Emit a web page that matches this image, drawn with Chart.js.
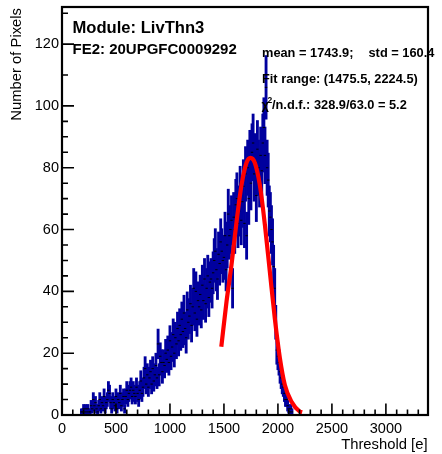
<!DOCTYPE html>
<html><head><meta charset="utf-8">
<script src="https://cdn.jsdelivr.net/npm/chart.js@4"></script>
<style>html,body{margin:0;padding:0;background:#fff;} #wrap{width:442px;height:454px;}</style>
</head><body>
<div id="wrap"><canvas id="c" width="442" height="454"></canvas></div>
<script>
// ---- data ----
const binStart = 180;   // centre of first filled bin [e]
const binWidth = 10;    // bin width [e]
const counts = [
  1,1,2,1,2,1,2,1,1,3,          // 180-270
  2,5,3,4,2,1,3,5,2,4,          // 280-370
  3,6,2,4,5,8,7,4,2,5,          // 380-470
  4,3,6,2,5,4,7,3,5,6,          // 480-570
  2,6,8,5,7,8,9,6,8,7,          // 580-670
  6,9,7,5,8,11,7,9,12,15,       // 680-770
  10,13,9,12,14,10,15,11,13,16, // 780-870
  12,23,13,19,17,14,17,16,20,18,// 880-970
  21,17,24,19,22,26,20,25,23,28,// 980-1070
  24,29,26,31,27,33,28,25,34,30,// 1080-1170
  32,36,29,35,41,33,40,31,37,35,// 1180-1270
  39,34,42,37,44,36,41,45,38,43,// 1280-1370
  44,41,46,50,53,47,44,52,49,56,// 1380-1470
  53,50,51,58,47,55,65,58,60,63,// 1480-1570
  41,64,60,68,70,62,66,72,63,69,// 1580-1670
  74,62,78,58,80,70,83,75,85,88,// 1680-1770
  78,82,71,86,80,76,84,79,88,93,// 1780-1870
  84,106,80,76,66,64,60,56,48,41,// 1880-1970
  30,21,19,17,14,12,10,9,7,5,   // 1980-2070
  5,3,2,1,2,1                   // 2080-2130
];
const fitX = [1475.5,1524,1570,1617,1663,1709,1746,1786,1832,1879,1925,1971,2018,2064,2126,2203,2224.5];
const fitY = [22.1,36.7,48.6,62.6,74.5,81.6,83.2,81.6,74.5,61.6,46.4,31.3,18.4,9.7,4.3,1.1,0.9];
const xTicks = [0,500,1000,1500,2000,2500,3000];
const yTicks = [0,20,40,60,80,100,120];
const xMin = 0, xMax = 3390, yMin = 0, yMax = 132;
const xMinorStep = 100, yMinorStep = 5;
const yMinorHidden = [105,115,125];
const titleModule = 'Module: LivThn3';
const titleFE = 'FE2: 20UPGFC0009292';
const statMean = 'mean = 1743.9;';
const statStd = 'std = 160.4';
const statFit = 'Fit range: (1475.5, 2224.5)';
const statChi = '/n.d.f.: 328.9/63.0 = 5.2';
const xTitle = 'Threshold [e]';
const yTitle = 'Number of Pixels';

// ---- build datasets ----
const errBars = counts.map((n, i) => ({x: binStart + i * binWidth, y: [n - Math.sqrt(n), n + Math.sqrt(n)]}));
const markers = counts.map((n, i) => ({x: binStart + i * binWidth, y: n}));
const fitPts = fitX.map((v, i) => ({x: v, y: fitY[i]}));

const FONT = '"Liberation Sans", Arial, Helvetica, sans-serif';
const BLUE = '#00009e';

const decor = {
  id: 'decor',
  beforeDraw(chart) {
    const ctx = chart.ctx;
    ctx.save(); ctx.fillStyle = '#fff'; ctx.fillRect(0, 0, chart.width, chart.height); ctx.restore();
  },
  afterDraw(chart) {
    const {ctx, chartArea: a, scales: {x, y}} = chart;
    ctx.save();
    // frame
    ctx.strokeStyle = '#000';
    ctx.lineWidth = 2.2;
    ctx.strokeRect(a.left, a.top, a.right - a.left, a.bottom - a.top);
    // ticks (inward, ROOT style)
    ctx.lineWidth = 1.6;
    ctx.beginPath();
    for (let v = xMin; v <= xMax; v += xMinorStep) {
      const px = x.getPixelForValue(v);
      const len = xTicks.includes(v) ? 11.5 : 5.5;
      ctx.moveTo(px, a.bottom); ctx.lineTo(px, a.bottom - len);
    }
    for (let v = yMin; v <= yMax; v += yMinorStep) {
      if (yMinorHidden.includes(v)) continue;
      const py = y.getPixelForValue(v);
      const len = yTicks.includes(v) ? 12 : 6;
      ctx.moveTo(a.left, py); ctx.lineTo(a.left + len, py);
    }
    ctx.stroke();

    // texts
    ctx.fillStyle = '#000';
    ctx.textAlign = 'left';
    ctx.textBaseline = 'alphabetic';
    ctx.font = 'bold 16.6px ' + FONT;
    ctx.fillText(titleModule, 72.5, 33);
    ctx.font = 'bold 15px ' + FONT;
    ctx.fillText(titleFE, 72.5, 53.5);
    ctx.font = 'bold 12.8px ' + FONT;
    ctx.fillText(statMean, 262, 57);
    ctx.fillText(statStd, 368.5, 57);
    ctx.fillText(statFit, 262, 83);
    ctx.fillText('\u03c7', 261.5, 109);
    ctx.font = 'bold 8.5px ' + FONT;
    ctx.fillText('2', 267.5, 103);
    ctx.font = 'bold 12.8px ' + FONT;
    ctx.fillText(statChi, 272, 109);

    // axis titles
    ctx.font = '14.8px ' + FONT;
    ctx.textAlign = 'right';
    ctx.fillText(xTitle, 427.5, 449);
    ctx.save();
    ctx.translate(21, 8);
    ctx.rotate(-Math.PI / 2);
    ctx.fillText(yTitle, 0, 0);
    ctx.restore();
    ctx.restore();
  }
};

new Chart(document.getElementById('c'), {
  type: 'bar',
  data: {
    datasets: [
      {type: 'line', data: fitPts, borderColor: '#ff0000', borderWidth: 4.2, pointRadius: 0,
       cubicInterpolationMode: 'monotone', fill: false, order: 0, clip: false},
      {type: 'scatter', data: markers, pointStyle: 'line', pointRadius: 1.2, borderColor: '#000',
       borderWidth: 1, backgroundColor: '#000', order: 1},
      {type: 'bar', data: errBars, backgroundColor: BLUE, borderWidth: 0, barThickness: 2.2,
       grouped: false, order: 2}
    ]
  },
  options: {
    responsive: false,
    devicePixelRatio: 1,
    animation: false,
    events: [],
    layout: {padding: {top: 7, right: 14, left: 0, bottom: 0}},
    plugins: {legend: {display: false}, tooltip: {enabled: false}, title: {display: false}},
    scales: {
      x: {
        type: 'linear', min: xMin, max: xMax, offset: false,
        grid: {display: false, drawTicks: false}, border: {display: false},
        afterBuildTicks: s => { s.ticks = xTicks.map(v => ({value: v})); },
        afterFit: s => { s.height = 39; s.paddingLeft = 0; s.paddingRight = 0; },
        ticks: {font: {family: FONT, size: 14.5}, color: '#000', padding: 5, maxRotation: 0, autoSkip: false,
                callback: v => String(v)}
      },
      y: {
        type: 'linear', min: yMin, max: yMax,
        grid: {display: false, drawTicks: false}, border: {display: false},
        afterBuildTicks: s => { s.ticks = yTicks.map(v => ({value: v})); },
        afterFit: s => { s.width = 62; s.paddingTop = 0; s.paddingBottom = 0; },
        ticks: {font: {family: FONT, size: 14.5}, color: '#000', padding: 3, autoSkip: false,
                callback: v => String(v)}
      }
    }
  },
  plugins: [decor]
});
</script>
</body></html>
